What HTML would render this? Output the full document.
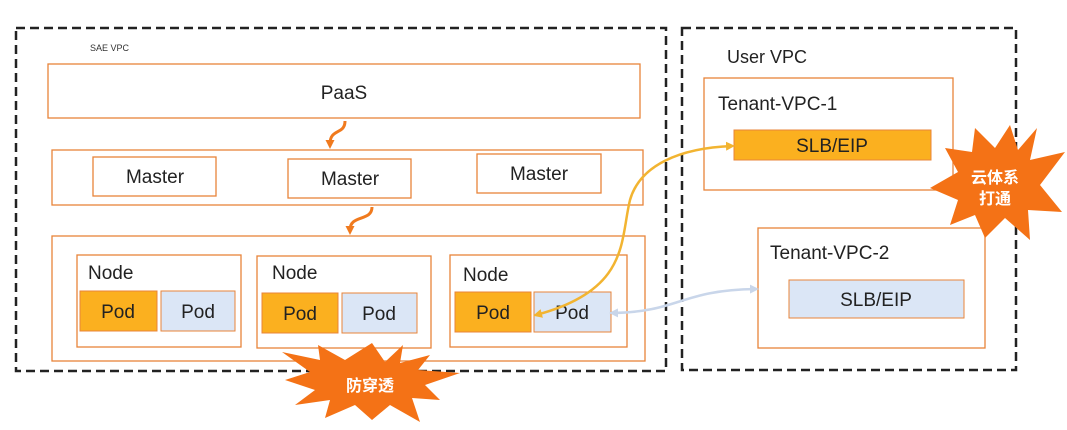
<!DOCTYPE html>
<html><head><meta charset="utf-8"><style>
html,body{margin:0;padding:0;background:#fff;}
svg{display:block;}
text{font-family:"Liberation Sans","Noto Sans CJK SC",sans-serif;}
</style></head><body>
<svg width="1067" height="430" viewBox="0 0 1067 430" xmlns="http://www.w3.org/2000/svg">
<defs>
<marker id="ao" markerUnits="userSpaceOnUse" markerWidth="9" markerHeight="9" refX="4" refY="4.5" orient="auto"><path d="M0,0 L9,4.5 L0,9 Z" fill="#f07a1e"/></marker>
<marker id="ay" markerUnits="userSpaceOnUse" markerWidth="9" markerHeight="9" refX="6" refY="4.5" orient="auto-start-reverse"><path d="M0,0 L9,4.5 L0,9 Z" fill="#f2b431"/></marker>
<marker id="ab" markerUnits="userSpaceOnUse" markerWidth="9" markerHeight="9" refX="6" refY="4.5" orient="auto-start-reverse"><path d="M0,0 L9,4.5 L0,9 Z" fill="#c9d6ea"/></marker>
</defs>
<g fill="none" stroke="#222" stroke-width="2.5" stroke-dasharray="9,5">
<rect x="16" y="28" width="650" height="343"/>
<rect x="682" y="28" width="334" height="342"/>
</g>
<text x="90" y="51" font-size="9" fill="#333">SAE VPC</text>
<text x="727" y="63" font-size="18" fill="#222">User VPC</text>
<g fill="#fff" stroke="#e8843a" stroke-width="1.3">
<rect x="48" y="64" width="592" height="54"/>
<rect x="52" y="150" width="591" height="55"/>
<rect x="93" y="157" width="123" height="39"/>
<rect x="288" y="159" width="123" height="39"/>
<rect x="477" y="154" width="124" height="39"/>
<rect x="52" y="236" width="593" height="125"/>
<rect x="77" y="255" width="164" height="92"/>
<rect x="257" y="256" width="174" height="92"/>
<rect x="450" y="255" width="177" height="92"/>
<rect x="704" y="78" width="249" height="112"/>
<rect x="758" y="228" width="227" height="120"/>
</g>
<g stroke="#e8843a" stroke-width="1">
<rect x="80" y="291" width="77" height="40" fill="#fbb01f"/>
<rect x="161" y="291" width="74" height="40" fill="#dbe6f6"/>
<rect x="262" y="293" width="76" height="40" fill="#fbb01f"/>
<rect x="342" y="293" width="75" height="40" fill="#dbe6f6"/>
<rect x="455" y="292" width="76" height="40" fill="#fbb01f"/>
<rect x="534" y="292" width="77" height="40" fill="#dbe6f6"/>
<rect x="734" y="130" width="197" height="30" fill="#fbb01f"/>
<rect x="789" y="280" width="175" height="38" fill="#dbe6f6"/>
</g>
<g font-size="19" fill="#222" text-anchor="middle">
<text x="344" y="99">PaaS</text>
<text x="155" y="183">Master</text>
<text x="350" y="185">Master</text>
<text x="539" y="180">Master</text>
<text x="118" y="318">Pod</text>
<text x="198" y="318">Pod</text>
<text x="300" y="320">Pod</text>
<text x="379" y="320">Pod</text>
<text x="493" y="319">Pod</text>
<text x="572" y="319">Pod</text>
<text x="832" y="152">SLB/EIP</text>
<text x="876" y="306">SLB/EIP</text>
</g>
<g font-size="19" fill="#222">
<text x="88" y="279">Node</text>
<text x="272" y="279">Node</text>
<text x="463" y="281">Node</text>
<text x="718" y="110">Tenant-VPC-1</text>
<text x="770" y="259">Tenant-VPC-2</text>
</g>
<path d="M345,121 C345,135 330,128 330,144" fill="none" stroke="#f07a1e" stroke-width="3" marker-end="url(#ao)"/>
<path d="M372,207 C372,222 350,214 350,230" fill="none" stroke="#f07a1e" stroke-width="3" marker-end="url(#ao)"/>
<path d="M536,315 C630,290 620,240 630,200 C640,165 680,148 732,146" fill="none" stroke="#f2b431" stroke-width="2.5" marker-start="url(#ay)" marker-end="url(#ay)"/>
<path d="M612,313 C680,312 680,290 756,289" fill="none" stroke="#c9d6ea" stroke-width="2.5" marker-start="url(#ab)" marker-end="url(#ab)"/>
<polygon fill="#f47216" points="1037,128 1030,160 1065,152 1040,185 1062,212 1028,210 1030,240 1005,218 985,238 975,215 950,225 958,200 930,188 958,172 945,148 972,152 975,128 995,148 1010,125 1018,150"/>
<text x="995" y="183" font-size="16" font-weight="bold" fill="#fff" text-anchor="middle">云体系</text>
<text x="995" y="204" font-size="16" font-weight="bold" fill="#fff" text-anchor="middle">打通</text>
<polygon fill="#f47216" points="282,352 320,360 318,345 345,360 372,343 385,362 403,345 400,363 430,355 418,370 460,373 425,385 440,400 412,398 420,422 390,405 372,420 355,405 325,418 330,400 295,405 315,390 285,380 310,372"/>
<text x="370" y="391" font-size="16" font-weight="bold" fill="#fff" text-anchor="middle">防穿透</text>
</svg>
</body></html>
